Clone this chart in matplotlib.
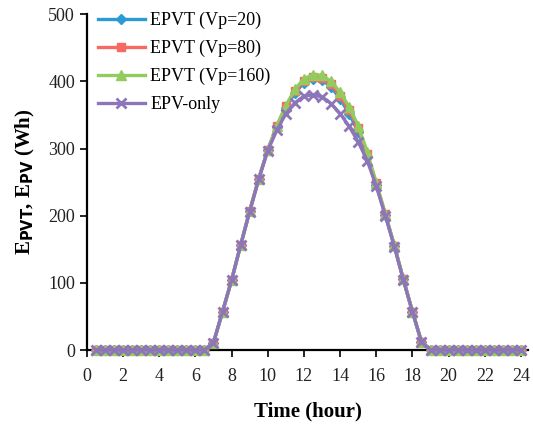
import matplotlib
matplotlib.use("Agg")
import matplotlib.pyplot as plt

hours = [0.5, 1, 1.5, 2, 2.5, 3, 3.5, 4, 4.5, 5, 5.5, 6, 6.5,
         7, 7.5, 8, 8.5, 9, 9.5, 10, 10.5, 11, 11.5, 12, 12.5,
         13, 13.5, 14, 14.5, 15, 15.5, 16, 16.5, 17, 17.5, 18, 18.5,
         19, 19.5, 20, 20.5, 21, 21.5, 22, 22.5, 23, 23.5, 24]
zeros_am = [0] * 13
zeros_pm = [0] * 11
epvt_vp20 = zeros_am + [11, 57, 104, 156, 207, 255, 298, 332, 361, 383, 398, 404,
                        402, 392, 374, 352, 325, 288, 246, 201, 155, 105, 57, 12] + zeros_pm
epvt_vp80 = zeros_am + [11, 57, 104, 156, 207, 255, 298, 333, 363, 386, 401, 407,
                        405, 396, 378, 357, 330, 292, 248, 202, 155, 105, 57, 12] + zeros_pm
epvt_vp160 = zeros_am + [11, 57, 104, 156, 207, 255, 298, 334, 364, 388, 404, 410,
                         409, 400, 384, 362, 334, 295, 249, 203, 156, 105, 57, 12] + zeros_pm
epv_only = zeros_am + [11, 57, 104, 156, 206, 254, 297, 327, 352, 368, 378, 380,
                       377, 367, 352, 333, 310, 282, 244, 200, 154, 104, 57, 12] + zeros_pm

series = [
    ("EPVT (Vp=20)", epvt_vp20, "#2A9BD4", "D", 5),
    ("EPVT (Vp=80)", epvt_vp80, "#F66A63", "s", 6),
    ("EPVT (Vp=160)", epvt_vp160, "#92CC5E", "^", 7),
    ("EPV-only", epv_only, "#8C76B9", "x", 7),
]

plt.rcParams['font.family'] = ['Liberation Serif', 'DejaVu Serif']
fig = plt.figure(figsize=(5.33, 4.24), dpi=100)
ax = fig.add_axes([0.163, 0.1745, 0.828, 0.792])

for label, vals, color, marker, ms in series:
    ax.plot(hours, vals, color=color, lw=2.4, marker=marker, markersize=ms,
            markeredgewidth=2 if marker == "x" else 1, label=label, clip_on=False, zorder=3)

ax.set_xlim(0, 24.4)
ax.set_ylim(0, 500)
ax.set_xticks(range(0, 25, 2))
ax.set_yticks(range(0, 501, 100))
for s in ["top", "right"]:
    ax.spines[s].set_visible(False)
for s in ["left", "bottom"]:
    ax.spines[s].set_linewidth(1.6)
ax.tick_params(axis="both", labelsize=13, width=1.4, length=5, direction="out", colors="#222222")
ax.tick_params(axis="x", pad=8)
ax.set_xlabel("Time (hour)", fontsize=15, fontweight="bold", labelpad=12)
ax.set_ylabel(r"E$_{\mathbf{PVT}}$, E$_{\mathbf{PV}}$ (Wh)", fontsize=15, fontweight="bold", labelpad=8)

ax.legend(loc="upper left", bbox_to_anchor=(0.0, 1.04), frameon=False, fontsize=13,
          handlelength=2.6, labelspacing=0.6, handletextpad=0.3, borderaxespad=0.2)

fig.savefig("out.png", dpi=100)
